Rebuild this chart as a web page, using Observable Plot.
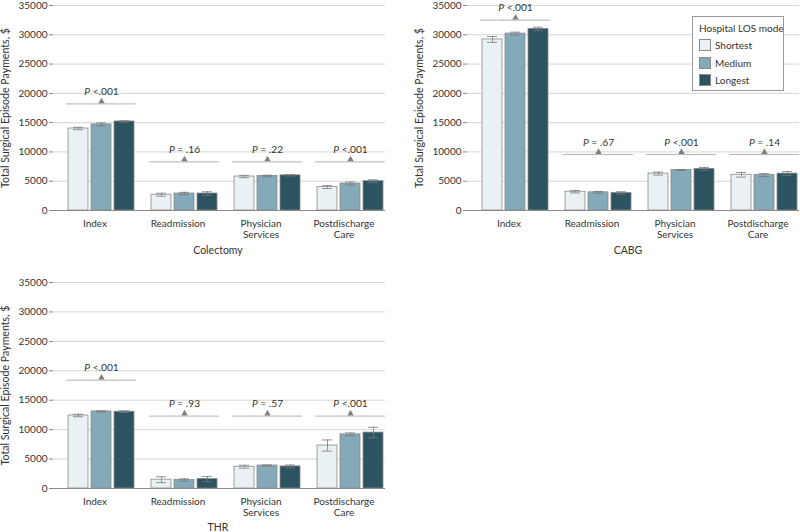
<!DOCTYPE html>
<html>
<head>
<meta charset="utf-8">
<script src="https://cdn.jsdelivr.net/npm/d3@7"></script>
<script src="https://cdn.jsdelivr.net/npm/@observablehq/plot@0.6"></script>
<style>
  body { margin: 0; background: #fff; font-family: Lato, sans-serif; }
  #wrap { position: relative; width: 800px; height: 532px; overflow: hidden; background: #fff; }
  .panel { position: absolute; }
  .ptitle { position: absolute; font-size: 10.5px; color: #333; transform: translate(-50%, -50%); white-space: nowrap; }
  .legend { position: absolute; left: 692px; top: 16px; width: 92px; height: 75px; border: 1px solid #9a9a9a; background: #fff; box-sizing: border-box; font-size: 10px; color: #333; white-space: nowrap; }
  .legend .lt { position: absolute; left: 6px; top: 5px; line-height: 12px; }
  .legend .li { position: absolute; left: 6px; display: flex; align-items: center; height: 13px; }
  .legend .sw { width: 12px; height: 12px; box-sizing: border-box; border: 1px solid #8a8a8a; margin-right: 4px; }
</style>
</head>
<body>
<div id="wrap"></div>
<script>
// ---- data ----
const categories = ["Index", "Readmission", "Physician Services", "Postdischarge Care"];
const categoryLabels = ["Index", "Readmission", "Physician\nServices", "Postdischarge\nCare"];
const modes = ["Shortest", "Medium", "Longest"];
const modeColors = ["#e9f1f5", "#84a9b8", "#2c5360"];
const yTicks = [0, 5000, 10000, 15000, 20000, 25000, 30000, 35000];
const legendTitle = "Hospital LOS mode";
const yLabel = "Total Surgical Episode Payments, $";

// Colectomy
const colectomyMeans = [[14000, 14700, 15200], [2700, 2900, 2900], [5800, 5900, 6000], [4000, 4600, 5000]];
const colectomyErrors = [[200, 250, 120], [250, 200, 300], [200, 120, 120], [250, 250, 250]];
const colectomyP = ["P <.001", "P = .16", "P = .22", "P <.001"];
const colectomyPLevel = [18200, 8300, 8300, 8300];

// CABG
const cabgMeans = [[29200, 30200, 31000], [3200, 3100, 3000], [6300, 6900, 7100], [6100, 6050, 6300]];
const cabgErrors = [[500, 250, 300], [200, 150, 200], [250, 80, 250], [400, 250, 350]];
const cabgP = ["P <.001", "P = .67", "P <.001", "P = .14"];
const cabgPLevel = [32500, 9550, 9550, 9550];

// THR
const thrMeans = [[12400, 13100, 13050], [1500, 1450, 1600], [3700, 3900, 3750], [7300, 9200, 9500]];
const thrErrors = [[200, 100, 150], [500, 200, 450], [250, 100, 250], [950, 250, 900]];
const thrP = ["P <.001", "P = .93", "P = .57", "P <.001"];
const thrPLevel = [18400, 12300, 12300, 12300];

// ---- drawing ----
const wrap = document.getElementById("wrap");
const labelOf = new Map(categories.map((c, i) => [c, categoryLabels[i]]));
const xPadInner = 0.14, xPadOuter = 0.36;

function panel({title, means, errors, pTexts, pLevels, left, top, width, height, marginLeft, marginRight, marginTop, marginBottom, titleX, titleY}) {
  const rows = [];
  categories.forEach((c, i) => modes.forEach((m, j) => rows.push({
    cat: c, mode: m, value: means[i][j], lo: means[i][j] - errors[i][j], hi: means[i][j] + errors[i][j]
  })));
  const ann = categories.map((c, i) => ({cat: c, level: pLevels[i], text: pTexts[i]}));
  const annSpan = [];
  ann.forEach(a => modes.forEach(m => annSpan.push({cat: a.cat, mode: m, level: a.level})));
  const facetW = (width - marginLeft - marginRight) / categories.length;
  const step = facetW / (modes.length - xPadInner + 2 * xPadOuter);
  const bw = step * (1 - xPadInner);
  const gapHalf = (step - bw) / 2 + 0.3;

  const chart = Plot.plot({
    width, height, marginLeft, marginRight, marginTop, marginBottom,
    style: {fontFamily: "Lato, sans-serif", fontSize: "10px", color: "#333", background: "transparent", overflow: "visible"},
    fx: {domain: categories, padding: 0, axis: null, label: null},
    x: {domain: modes, paddingInner: xPadInner, paddingOuter: xPadOuter, align: 0.85, axis: null},
    y: {domain: [0, 35000], axis: null},
    color: {domain: modes, range: modeColors},
    marks: [
      Plot.gridY(yTicks, {stroke: "#d6d6d6", strokeOpacity: 1}),
      Plot.axisY({ticks: yTicks, tickSize: 4, tickPadding: 2, tickFormat: d3.format("d"), stroke: "#888",
        label: yLabel, labelAnchor: "center", labelArrow: "none", labelOffset: 52, line: true, fontSize: 10}),
      Plot.axisFx({anchor: "bottom", tickSize: 0, tickPadding: 8, tickFormat: d => labelOf.get(d), label: null, lineHeight: 1.13, fontSize: 10}),
      Plot.barY(rows, {fx: "cat", x: "mode", y: "value", fill: "mode", stroke: "#8a8a8a", strokeWidth: 0.8}),
      Plot.ruleX(rows, {fx: "cat", x: "mode", y1: "lo", y2: "hi", stroke: "#777", strokeWidth: 0.8}),
      Plot.tickY(rows, {fx: "cat", x: "mode", y: "hi", stroke: "#777", strokeWidth: 0.8, inset: 5}),
      Plot.tickY(rows, {fx: "cat", x: "mode", y: "lo", stroke: "#777", strokeWidth: 0.8, inset: 5}),
      Plot.ruleY([0], {stroke: "#8a8a8a"}),
      Plot.tickY(annSpan, {fx: "cat", x: "mode", y: "level", inset: -gapHalf, stroke: "#aaa", strokeWidth: 0.9}),
      Plot.dot(ann, {fx: "cat", x: () => modes[1], y: "level", symbol: "triangle", r: 2.4, fill: "#808080", stroke: "none", dy: -2.5}),
      Plot.text(ann, {fx: "cat", x: () => modes[1], y: "level", text: "text", dy: -12, fontSize: 10.2, fill: "#333"})
    ]
  });
  // italic P
  d3.select(chart).selectAll("text").each(function () {
    const t = this.textContent;
    if (/^P [<=]/.test(t) && this.childElementCount === 0) {
      const el = d3.select(this);
      el.text(null);
      el.append("tspan").attr("font-style", "italic").text("P");
      el.append("tspan").text(t.slice(1));
    }
  });
  // slightly larger y-axis title
  d3.select(chart).selectAll("text").filter(function () { return this.textContent === yLabel; })
    .attr("font-size", 10.6);
  const div = document.createElement("div");
  div.className = "panel";
  div.style.left = left + "px";
  div.style.top = top + "px";
  div.appendChild(chart);
  wrap.appendChild(div);
  const tt = document.createElement("div");
  tt.className = "ptitle";
  tt.style.left = titleX + "px";
  tt.style.top = titleY + "px";
  tt.textContent = title;
  wrap.appendChild(tt);
}

panel({title: "Colectomy", means: colectomyMeans, errors: colectomyErrors, pTexts: colectomyP, pLevels: colectomyPLevel,
  left: 0, top: 0, width: 400, height: 262, marginLeft: 52, marginRight: 15, marginTop: 5, marginBottom: 52, titleX: 218, titleY: 250});
panel({title: "CABG", means: cabgMeans, errors: cabgErrors, pTexts: cabgP, pLevels: cabgPLevel,
  left: 400, top: 0, width: 400, height: 262, marginLeft: 66, marginRight: 0, marginTop: 5, marginBottom: 52, titleX: 628, titleY: 250});
panel({title: "THR", means: thrMeans, errors: thrErrors, pTexts: thrP, pLevels: thrPLevel,
  left: 0, top: 270, width: 400, height: 262, marginLeft: 52, marginRight: 15, marginTop: 12, marginBottom: 44, titleX: 218, titleY: 527});

// legend
const lg = document.createElement("div");
lg.className = "legend";
const lt = document.createElement("div");
lt.className = "lt";
lt.textContent = legendTitle;
lg.appendChild(lt);
modes.forEach((m, i) => {
  const li = document.createElement("div");
  li.className = "li";
  li.style.top = (21.5 + i * 17.5) + "px";
  const sw = document.createElement("div");
  sw.className = "sw";
  sw.style.background = modeColors[i];
  li.appendChild(sw);
  const s = document.createElement("span");
  s.textContent = m;
  li.appendChild(s);
  lg.appendChild(li);
});
wrap.appendChild(lg);
</script>
</body>
</html>
